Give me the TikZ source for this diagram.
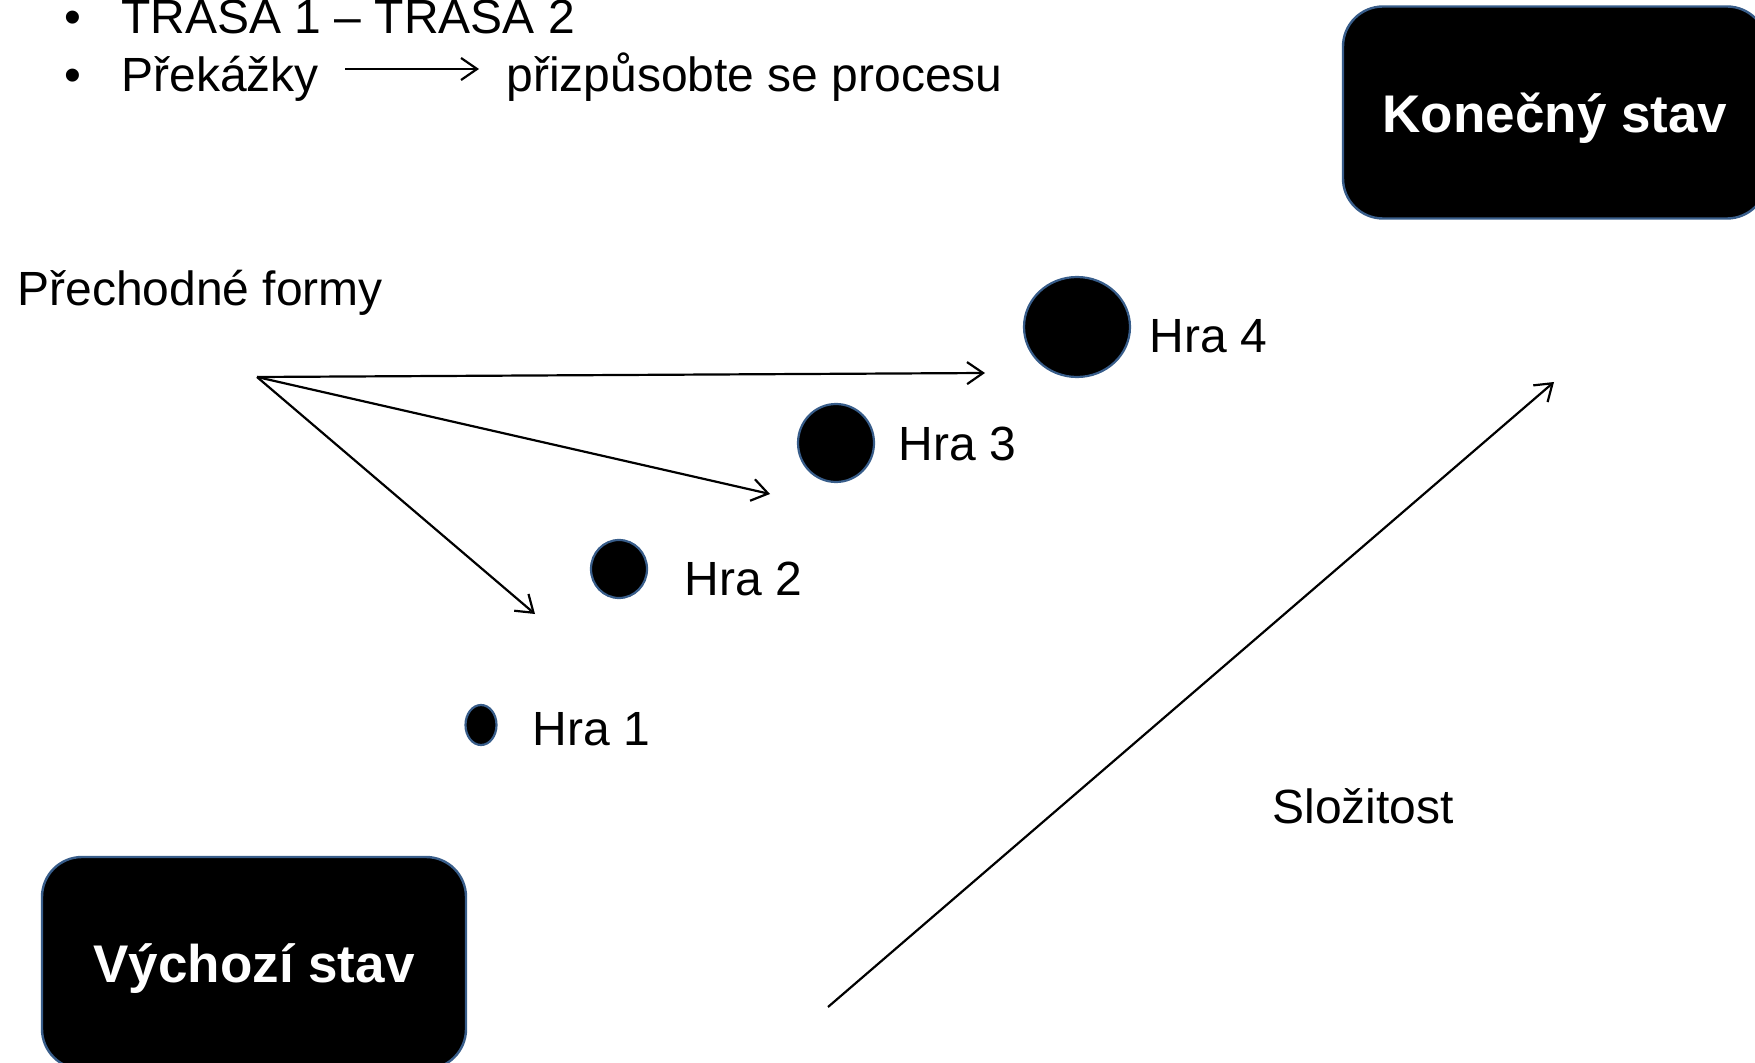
\documentclass[tikz,border=0pt]{standalone}
\usepackage{fontspec}
\setmainfont{Liberation Sans}
\usetikzlibrary{arrows.meta}
\definecolor{edgeblue}{RGB}{56,93,138}
\tikzset{
  txt/.style={anchor=base west, inner sep=0pt, font=\fontsize{24pt}{28pt}\selectfont},
  statebox/.style={draw=edgeblue, line width=1.2pt, fill=black, rounded corners=20pt,
     minimum width=212pt, minimum height=106pt, text=white, text depth=0pt,
     font=\fontsize{26.5pt}{30pt}\selectfont\bfseries},
  arr/.style={line width=1.1pt, -{Straight Barb[length=8pt,width=11pt,line width=1.1pt]}},
  gamedot/.style={draw=edgeblue, line width=1.1pt, fill=black},
}
\begin{document}
\begin{tikzpicture}[x=0.5pt,y=-0.5pt]
\useasboundingbox (0,0) rectangle (1755,1063);
\begin{scope}
\clip (0,0) rectangle (1755,1063);
% bullets
\node[txt] (b1) at (64,34) {•};
\node[txt] (l1) at (121,34) {TRASA 1 – TRASA 2};
\node[txt] (b2) at (64,92) {•};
\node[txt] (prek) at (121,92) {Překážky};
\node[txt] (priz) at (506,92) {přizpůsobte se procesu};
\coordinate (pa) at (345,69);
\coordinate (pb) at (479,69);
\draw[arr] (pa) -- (pb);

% state boxes
\node[statebox] (end) at (1555,112.5) {Konečný stav};
\node[statebox] (start) at (254,963) {Výchozí stav};

% transitional forms
\node[txt] (prech) at (17,306) {Přechodné formy};
\coordinate (src) at (257,377);
\coordinate (t4) at (985,373);
\coordinate (t3) at (770,494);
\coordinate (t2) at (535,614);
\draw[arr] (src) -- (t4);
\draw[arr] (src) -- (t3);
\draw[arr] (src) -- (t2);

% games
\draw[gamedot] (1077,327) ellipse [x radius=53, y radius=50];
\node[inner sep=0pt] (g4) at (1077,327) {};
\draw[gamedot] (836,443) ellipse [x radius=38, y radius=39];
\node[inner sep=0pt] (g3) at (836,443) {};
\draw[gamedot] (619,569) ellipse [x radius=28, y radius=29];
\node[inner sep=0pt] (g2) at (619,569) {};
\draw[gamedot] (481,725) ellipse [x radius=15.5, y radius=20];
\node[inner sep=0pt] (g1) at (481,725) {};

\node[txt] (h4) at (1149,353) {Hra 4};
\node[txt] (h3) at (898,461) {Hra 3};
\node[txt] (h2) at (684,595) {Hra 2};
\node[txt] (h1) at (532,745) {Hra 1};

% complexity axis
\coordinate (s0) at (828,1007);
\coordinate (s1) at (1554,382);
\draw[arr] (s0) -- (s1);
\node[txt] (slo) at (1272,823) {Složitost};
\end{scope}
\end{tikzpicture}
\end{document}
